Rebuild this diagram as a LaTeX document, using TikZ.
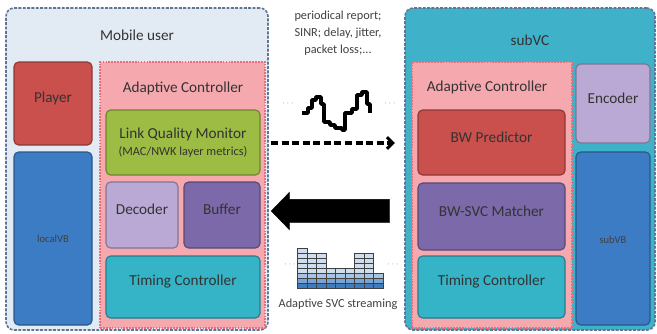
\documentclass[tikz,border=0pt]{standalone}
\usepackage{fontspec}
\setmainfont{Carlito}
\usetikzlibrary{fit,shapes.arrows,arrows.meta}
\definecolor{userbg}{HTML}{E2EBF4}
\definecolor{vcbg}{HTML}{3FB2C9}
\definecolor{ctrlbg}{HTML}{F5A9AE}
\definecolor{ctrlline}{HTML}{E5707C}
\definecolor{arealine}{HTML}{5E7596}
\definecolor{redbox}{HTML}{C9504C}
\definecolor{bluebox}{HTML}{3C7CC4}
\definecolor{greenbox}{HTML}{9CBC44}
\definecolor{lilac}{HTML}{B9A9D4}
\definecolor{violet}{HTML}{7B69A9}
\definecolor{tealbox}{HTML}{35B3C7}
\definecolor{barblue}{HTML}{3E7CC0}

\begin{document}
\begin{tikzpicture}[x=0.03cm, y=-0.03cm,
    every node/.style = {font=\fontsize{13}{15}\selectfont, text=black!80},
    area/.style  = {draw=arealine, line width=1.4pt, dash pattern=on 2.5pt off 1.2pt,
      rounded corners=7pt, inner sep=0pt},
    ctrl/.style  = {draw=ctrlline, fill=ctrlbg, line width=1.4pt,
      dash pattern=on 1.5pt off 1pt, inner sep=0pt},
    block/.style = {draw=#1!70!black, fill=#1, line width=1pt,
      rounded corners=4pt, inner sep=0pt},
    small/.style = {font=\fontsize{10.5}{14.5}\selectfont, text=black!75},
    tiny/.style  = {font=\fontsize{9}{10}\selectfont, text=black!75},
    report/.style = {line width=3.5pt, dash pattern=on 6pt off 3pt,
      -{Straight Barb[length=5pt, width=10pt, line width=2.5pt]}},
    dots/.style  = {font=\fontsize{7}{8}\selectfont, text=black!60}
  ]
  \useasboundingbox (0,0) rectangle (657,333);

  % mobile user side
  \node[area, fill=userbg, fit={(6,8)(268,330)}] (user) {};
  \node at (137,35) (usertitle) {Mobile user};
  \node[block=redbox, fit={(14,62)(92,145)}] (player) {Player};
  \node[block=bluebox, fit={(14,152)(92,325)}] (localvb) {};
  \node[tiny] at (localvb) (localvbtext) {localVB};
  \node[ctrl, fit={(100,62)(265,328)}] (userctrl) {};
  \node at (183,88) (userctrltitle) {Adaptive Controller};
  \node[block=greenbox, fit={(106,110)(260,175)}] (monitor) {};
  \node[align=center] at (monitor) (monitortext)
    {Link Quality Monitor\\[-1pt]{\fontsize{10.5}{12}\selectfont (MAC/NWK layer metrics)}};
  \node[block=lilac, fit={(106,182)(178,248)}] (decoder) {Decoder};
  \node[block=violet, fit={(184,182)(260,248)}] (buffer) {Buffer};
  \node[block=tealbox, fit={(106,256)(260,318)}] (usertiming) {Timing Controller};

  % subVC side
  \node[area, fill=vcbg, fit={(405,8)(655,330)}] (subvc) {};
  \node at (530,40) (subvctitle) {subVC};
  \node[ctrl, fit={(412,62)(572,328)}] (vcctrl) {};
  \node at (487,87) (vcctrltitle) {Adaptive Controller};
  \node[block=redbox, fit={(418,110)(565,175)}] (predictor) {BW Predictor};
  \node[block=violet, fit={(418,183)(565,250)}] (matcher) {BW-SVC Matcher};
  \node[block=tealbox, fit={(418,256)(565,318)}] (vctiming) {Timing Controller};
  \node[block=lilac, fit={(576,64)(650,143)}] (encoder) {Encoder};
  \node[block=bluebox, fit={(576,152)(650,325)}] (subvb) {};
  \node[tiny] at (613,240) (subvbtext) {subVB};

  % report channel
  \node[small, align=center] at (338,33) (reporttext)
    {periodical report;\\SINR; delay, jitter,\\packet loss;...};
  \draw[line width=3pt, line join=round]
    (302,113) -- (308,113) -- (308,108) -- (312,108) -- (312,100) -- (316,100)
    -- (316,97) -- (321,97) -- (321,104) -- (324,104) -- (324,122) -- (330,122)
    -- (330,125) -- (335,125) -- (335,128) -- (342,128) -- (342,130) -- (345,130)
    -- (345,113) -- (352,113) -- (352,109) -- (357,109) -- (357,95) -- (362,95)
    -- (362,92) -- (367,92) -- (367,104) -- (370,104) -- (370,113);
  \node[dots] at (288,104) (wavel) {$\cdots$};
  \node[dots] at (390,104) (waver) {$\cdots$};
  \draw[report, shorten <=2pt, shorten >=8pt] (user.east |- 0,143) -- (subvc.west |- 0,143);

  % streaming channel
  \node[single arrow, fill=black, draw=black, shape border rotate=180,
    minimum height=3.54cm, inner xsep=0pt, inner ysep=0.345cm,
    single arrow head extend=0.21cm, single arrow tip angle=92]
    at (336,211) (stream) {};
  \foreach \h [count=\i] in {8,7,7,4,4,4,7,7,3} {
    \foreach \r in {1,...,\h} {
      \pgfmathtruncatemacro\shade{\r==1 ? 100 : (\r==2 ? 70 : (\r==3 ? 45 : 25))}
      \filldraw[fill=barblue!\shade, draw=black!75, line width=0.7pt]
        (288+9.5*\i,288-5*\r) rectangle ++(9.5,5);
    }
  }
  \node[dots] at (290,265) (barsl) {$\cdots$};
  \node[dots] at (393,265) (barsr) {$\cdots$};
  \node[small] at (338,304) (streamtext) {Adaptive SVC streaming};
\end{tikzpicture}
\end{document}
